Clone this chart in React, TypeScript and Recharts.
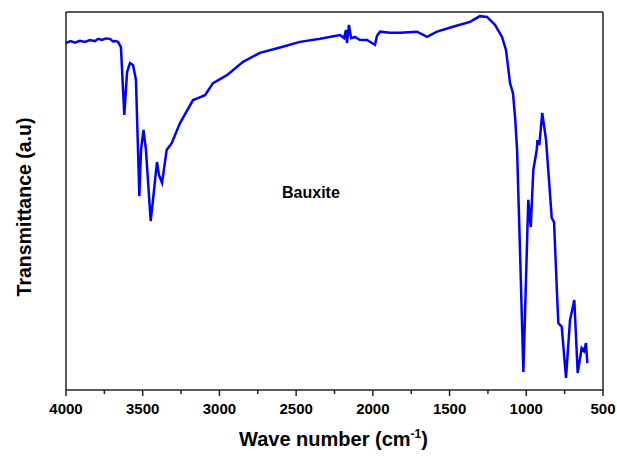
import { LineChart, Line, XAxis, YAxis, ReferenceLine } from "recharts";

const waveNumbers = [
  4000, 3970, 3941, 3910, 3876, 3845, 3811, 3790, 3765, 3740, 3713, 3695, 3681, 3661, 3642,
  3620, 3602, 3583, 3563, 3544, 3522, 3511, 3495, 3479, 3448, 3433, 3407, 3394, 3374, 3344,
  3311, 3257, 3172, 3140, 3094, 3042, 2951, 2846, 2736, 2605, 2475, 2344, 2214, 2188, 2175,
  2169, 2156, 2142, 2117, 2084, 2038, 2006, 1986, 1973, 1953, 1888, 1823, 1712, 1647, 1582,
  1478, 1367, 1302, 1256, 1204, 1158, 1132, 1106, 1087, 1073, 1060, 1041, 1019, 1002, 987,
  971, 954, 932, 927, 915, 896, 871, 834, 819, 798, 791, 769, 741, 715, 687,
  665, 639, 624, 611, 602,
];

// transmittance (arbitrary units, 0-100)
const transmittance = [
  91.8, 92.3, 91.9, 92.4, 92.1, 92.6, 92.3, 92.9, 92.6, 93.0, 92.9, 92.2, 92.3, 92.1, 90.7,
  72.8, 84.1, 86.5, 86.0, 82.0, 51.3, 63.5, 68.8, 63.5, 44.7, 50.3, 60.3, 56.9, 54.8, 63.5,
  65.3, 70.6, 76.7, 77.2, 78.0, 81.2, 83.3, 86.8, 89.2, 90.6, 92.1, 92.9, 93.9, 93.1, 95.2,
  91.8, 96.6, 93.1, 93.4, 92.6, 92.6, 91.8, 91.3, 93.7, 94.8, 94.5, 94.5, 94.8, 93.4, 94.8,
  96.1, 97.4, 98.9, 98.7, 96.6, 93.4, 89.9, 81.2, 78.6, 72.2, 63.5, 37.0, 4.8, 29.1, 50.3,
  43.1, 58.2, 63.5, 66.1, 64.8, 73.3, 66.1, 45.5, 44.4, 23.8, 17.7, 16.7, 3.2, 18.5, 23.8,
  4.5, 11.1, 10.3, 12.4, 7.1,
];

const xTicks = [4000, 3750, 3500, 3250, 3000, 2750, 2500, 2250, 2000, 1750, 1500, 1250, 1000, 750, 500];

const data = waveNumbers.map((w, i) => ({ w, t: transmittance[i] }));

const FONT = '"Liberation Sans", Arial, sans-serif';
const AXIS = "#222";

const WaveTick = (props: any) => {
  const { x, y, payload } = props;
  const major = payload.value % 500 === 0;
  return (
    <g>
      <line x1={x} x2={x} y1={y} y2={y + (major ? 6 : 4)} stroke={AXIS} strokeWidth={1.5} />
      {major && (
        <text x={x} y={y + 24} textAnchor="middle" fontFamily={FONT} fontWeight="bold" fontSize={15} fill="#000">
          {payload.value}
        </text>
      )}
    </g>
  );
};

export default function App() {
  return (
    <div style={{ position: "absolute", left: 0, top: 0, width: 617, height: 457, background: "#fff" }}>
      <LineChart width={617} height={457} data={data} margin={{ top: 12, right: 14, left: 0, bottom: 37 }}>
        <XAxis
          dataKey="w"
          type="number"
          domain={[500, 4000]}
          reversed
          ticks={xTicks}
          interval={0}
          tick={<WaveTick />}
          tickLine={false}
          tickSize={0}
          tickMargin={0}
          height={30}
          axisLine={{ stroke: AXIS, strokeWidth: 1.5 }}
        />
        <YAxis
          domain={[0, 100]}
          type="number"
          width={66}
          tick={false}
          tickLine={false}
          axisLine={{ stroke: AXIS, strokeWidth: 1.5 }}
        />
        <ReferenceLine y={100} stroke={AXIS} strokeWidth={1.5} />
        <ReferenceLine x={500} stroke={AXIS} strokeWidth={1.5} />
        <Line
          dataKey="t"
          type="linear"
          stroke="#0000ff"
          strokeWidth={2.5}
          dot={false}
          isAnimationActive={false}
        />
      </LineChart>
      <div
        style={{
          position: "absolute",
          left: 282,
          top: 184,
          fontFamily: FONT,
          fontWeight: "bold",
          fontSize: 16,
        }}
      >
        Bauxite
      </div>
      <div
        style={{
          position: "absolute",
          left: 0,
          top: 427,
          width: 667,
          textAlign: "center",
          fontFamily: FONT,
          fontWeight: "bold",
          fontSize: 20,
        }}
      >
        Wave number (cm<sup style={{ fontSize: 12 }}>-1</sup>)
      </div>
      <div
        style={{
          position: "absolute",
          left: 24,
          top: 207,
          transform: "translate(-50%, -50%) rotate(-90deg)",
          whiteSpace: "nowrap",
          fontFamily: FONT,
          fontWeight: "bold",
          fontSize: 19.5,
        }}
      >
        Transmittance (a.u)
      </div>
    </div>
  );
}
